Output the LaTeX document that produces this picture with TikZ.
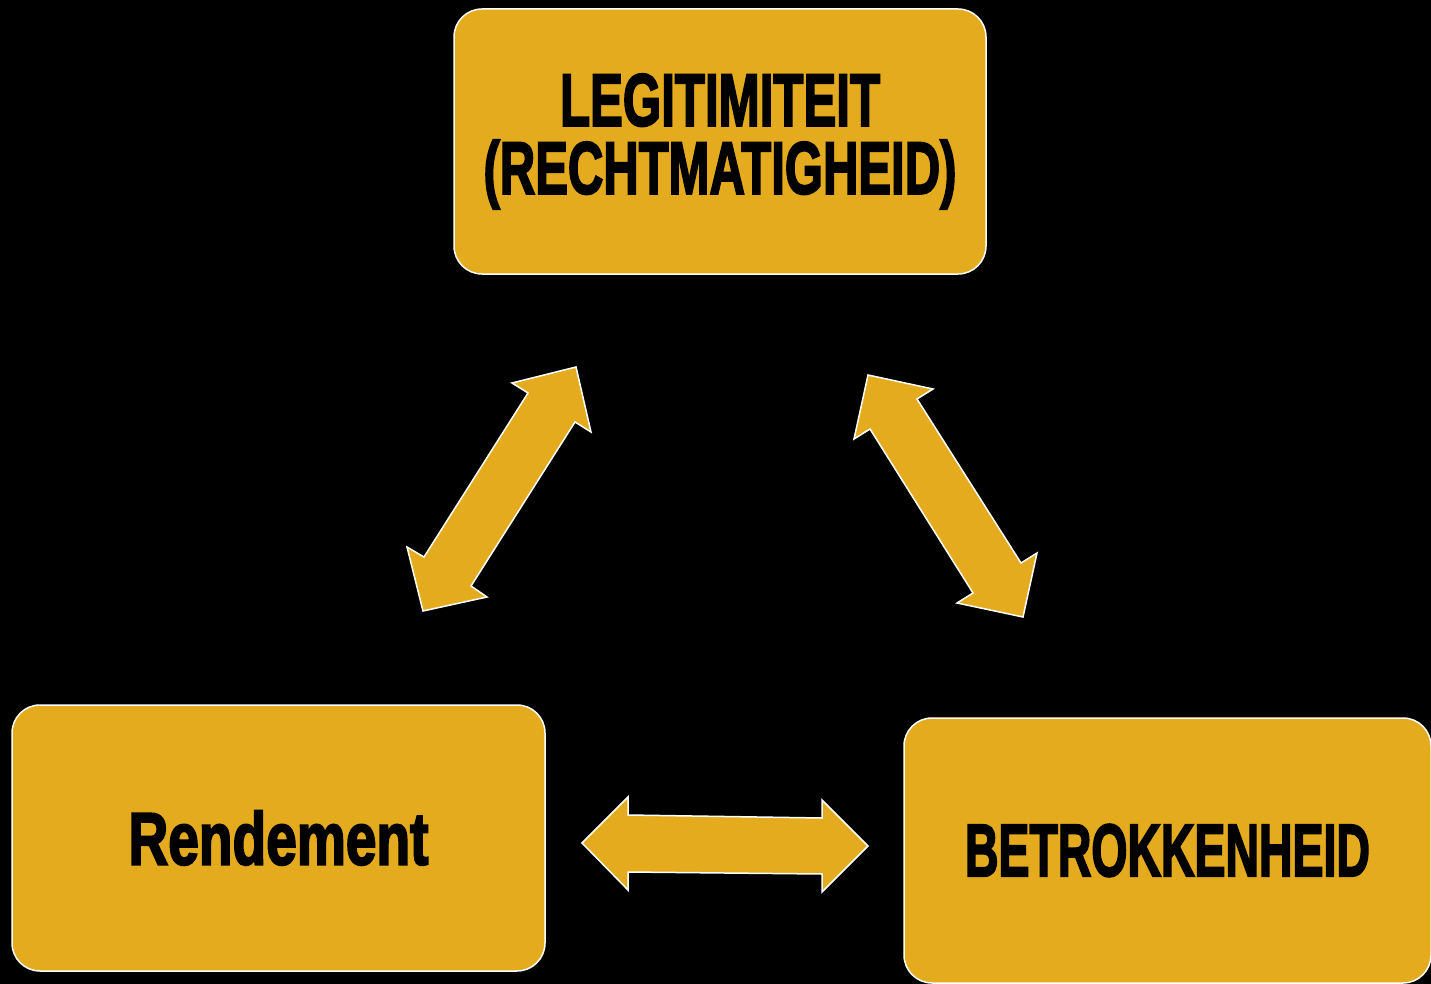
\documentclass[tikz,border=0pt]{standalone}
\usepackage{fontspec}
\usepackage{graphicx}
\newfontfamily\imp{Liberation Sans Bold}[FakeBold=3]
\definecolor{gold}{RGB}{227,171,29}
\tikzset{
  box/.style={draw=white, line width=1.5pt, fill=gold, rounded corners=28pt, inner sep=0pt,
    font=\imp\fontsize{74}{68}\selectfont, text=black, align=center},
  blockarrow/.style={draw=white, line width=1.5pt, fill=gold, line join=miter}
}
\begin{document}
\begin{tikzpicture}[x=1pt,y=-1pt]
\fill[black] (0,0) rectangle (1431,984);
\useasboundingbox (0,0) rectangle (1431,984);
\node[box, minimum width=532pt, minimum height=265pt] (legit) at (720,141.5)
  {\resizebox{320pt}{\height}{LEGITIMITEIT}\\[0pt]\resizebox{473pt}{\height}{(RECHTMATIGHEID)}};
\node[box, minimum width=533pt, minimum height=266pt] (rend) at (278.5,838)
  {\resizebox{300pt}{\height}{Rendement}};
\node[box, minimum width=527pt, minimum height=265pt] (betr) at (1167.5,850.5)
  {\resizebox{405pt}{\height}{BETROKKENHEID}};
% double block arrows
\draw[blockarrow] (576,367) -- (591,432) -- (575,422) -- (471,586) -- (487,597) -- (423,611)
  -- (407,547) -- (424,557) -- (528,393) -- (512,383) -- cycle;
\draw[blockarrow] (868,375) -- (933,389) -- (917,399) -- (1021,563) -- (1037,553) -- (1023,617)
  -- (957,603) -- (973,593) -- (870,429) -- (854,439) -- cycle;
\draw[blockarrow] (582,843) -- (628,797) -- (628,815) -- (822,818) -- (822,800) -- (868,846)
  -- (822,892) -- (822,874) -- (628,872) -- (628,890) -- cycle;
\end{tikzpicture}
\end{document}
